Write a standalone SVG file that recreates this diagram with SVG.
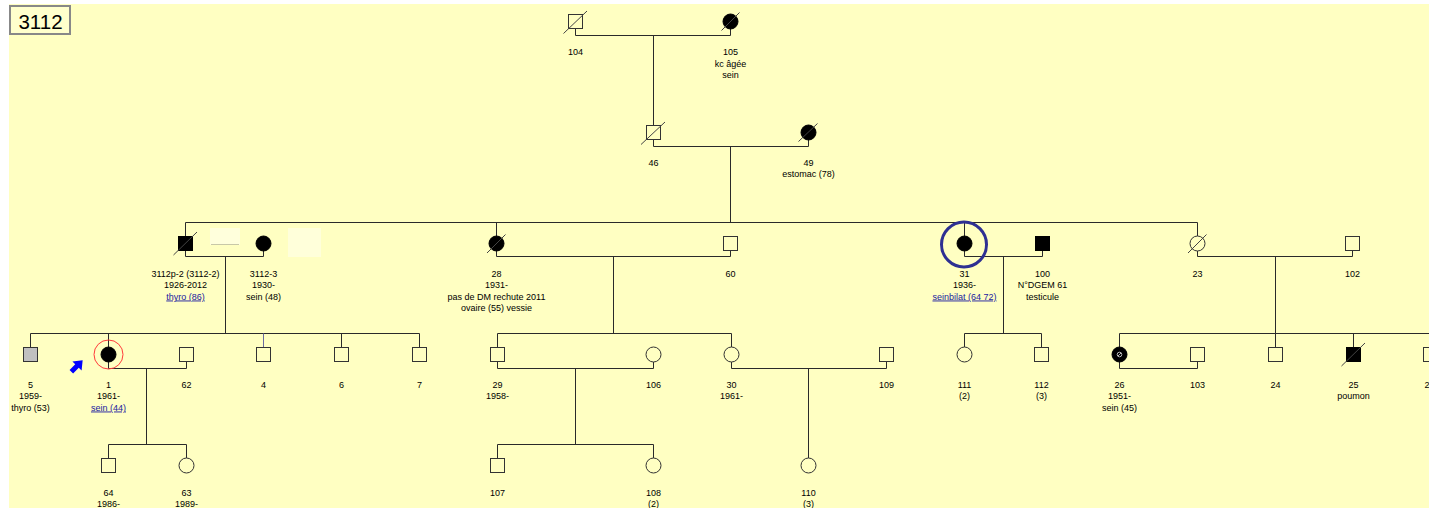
<svg xmlns="http://www.w3.org/2000/svg" width="1429" height="508" viewBox="0 0 1429 508">
<style>
.bg{fill:#FFFFC2}
.ln{stroke:#2a2a2a;stroke-width:1;fill:none}
.nd{stroke:#333;stroke-width:1;fill:#FFFFC2}
.af{stroke:#000;stroke-width:1;fill:#000}
.gr{stroke:#333;stroke-width:1;fill:#C0C0C0}
.sl{stroke:#444;stroke-width:1}
text{font-family:"Liberation Sans",Arial,sans-serif;font-size:9px;fill:#000;text-anchor:middle}
.lk{fill:#1A1AA0;text-decoration:underline}
</style>
<rect x="0" y="0" width="1429" height="508" fill="#FFFFFF"/>
<rect class="bg" x="9" y="4" width="1420" height="504"/>
<g id="title">
<rect x="10" y="6" width="60" height="28" fill="#FFFFCC" stroke="#888" stroke-width="2"/>
<text x="40.5" y="28.5" style="font-size:20.5px">3112</text>
</g>
<g id="faint">
<rect x="210" y="228" width="30" height="17" fill="#FFFFDC"/>
<line x1="211" y1="244.5" x2="239" y2="244.5" stroke="#C8C8A8"/>
<rect x="288" y="228" width="33" height="29" fill="#FFFFDA"/>
</g>
<g id="connectors" class="ln">
<path d="M575.5,28.5V35.5H730.5V29"/>
<path d="M653.5,35.5V125.5"/>
<path d="M653.5,139.5V146.5H808.5V140"/>
<path d="M730.5,146.5V222.5"/>
<path d="M185.5,236.5V222.5H1197.5V236"/>
<path d="M496.5,222.5V236"/>
<path d="M964.5,222.5V236"/>
<path d="M185.5,250.5V256.5H263.5V251"/>
<path d="M225.5,256.5V333.5"/>
<path d="M496.5,251V256.5H730.5V250.5"/>
<path d="M613.5,256.5V333.5"/>
<path d="M964.5,251V256.5H1042.5V250.5"/>
<path d="M1003.5,256.5V333.5"/>
<path d="M1197.5,251V256.5H1352.5V250.5"/>
<path d="M1275.5,256.5V347.5"/>
<path d="M30.5,347.5V333.5H419.5V347.5"/>
<path d="M108.5,333.5V347"/>
<path d="M263.5,333.5V347.5" stroke="#6A6AA0"/>
<path d="M341.5,333.5V347.5"/>
<path d="M497.5,347.5V333.5H731.5V347"/>
<path d="M964.5,347V333.5H1041.5V347.5"/>
<path d="M1119.5,347V333.5H1429"/>
<path d="M1353.5,333.5V347.5"/>
<path d="M108.5,362V368.5H186.5V361.5"/>
<path d="M146.5,368.5V444.5"/>
<path d="M497.5,361.5V368.5H653.5V362"/>
<path d="M575.5,368.5V444.5"/>
<path d="M731.5,362V368.5H886.5V361.5"/>
<path d="M808.5,368.5V458"/>
<path d="M1119.5,362V368.5H1197.5V361.5"/>
<path d="M108.5,458.5V444.5H186.5V458"/>
<path d="M497.5,458.5V444.5H653.5V458"/>
</g>
<g id="n104"><rect class="nd" x="568.5" y="14.5" width="14" height="14"/><line class="sl" x1="563.5" y1="33.5" x2="587" y2="11"/><text x="575.5" y="55">104</text></g>
<g id="n105"><circle class="af" cx="730.5" cy="21.5" r="7.5"/><line class="sl" x1="721.5" y1="30.5" x2="739.5" y2="12.5"/><text x="730.5" y="55">105</text><text x="730.5" y="66.5">kc âgée</text><text x="730.5" y="78">sein</text></g>
<g id="n46"><rect class="nd" x="646.5" y="125.5" width="14" height="14"/><line class="sl" x1="641" y1="144.5" x2="665" y2="122"/><text x="653.5" y="165.5">46</text></g>
<g id="n49"><circle class="af" cx="808.5" cy="132.5" r="7.5"/><line class="sl" x1="798.5" y1="141.5" x2="817.5" y2="123.5"/><text x="808.5" y="165.5">49</text><text x="808.5" y="177">estomac (78)</text></g>
<g id="n3112p-2"><rect class="af" x="178.5" y="236.5" width="14" height="14"/><line class="sl" x1="173.5" y1="255" x2="197" y2="232"/><text x="185.5" y="276.5">3112p-2 (3112-2)</text><text x="185.5" y="288">1926-2012</text><text class="lk" x="185.5" y="299.5">thyro (86)</text></g>
<g id="n3112-3"><circle class="af" cx="263.5" cy="243.5" r="7.5"/><text x="263.5" y="276.5">3112-3</text><text x="263.5" y="288">1930-</text><text x="263.5" y="299.5">sein (48)</text></g>
<g id="n28"><circle class="af" cx="496.5" cy="243.5" r="7.5"/><line class="sl" x1="487" y1="253" x2="505.5" y2="234.5"/><text x="496.5" y="276.5">28</text><text x="496.5" y="288">1931-</text><text x="496.5" y="299.5">pas de DM rechute 2011</text><text x="496.5" y="311">ovaire (55) vessie</text></g>
<g id="n60"><rect class="nd" x="723.5" y="236.5" width="14" height="14"/><text x="730.5" y="276.5">60</text></g>
<g id="n31"><circle fill="none" stroke="#2E3092" stroke-width="3" cx="964" cy="244.5" r="22.5"/><circle class="af" cx="964.5" cy="243.5" r="7.5"/><text x="964.5" y="276.5">31</text><text x="964.5" y="288">1936-</text><text class="lk" x="964.5" y="299.5">seinbilat (64 72)</text></g>
<g id="n100"><rect class="af" x="1035.5" y="236.5" width="14" height="14"/><text x="1042.5" y="276.5">100</text><text x="1042.5" y="288">N°DGEM 61</text><text x="1042.5" y="299.5">testicule</text></g>
<g id="n23"><circle class="nd" cx="1197.5" cy="243.5" r="7.5"/><line class="sl" x1="1188" y1="253" x2="1206.5" y2="234.5"/><text x="1197.5" y="276.5">23</text></g>
<g id="n102"><rect class="nd" x="1345.5" y="236.5" width="14" height="14"/><text x="1352.5" y="276.5">102</text></g>
<g id="n5"><rect class="gr" x="23.5" y="347.5" width="14" height="14"/><text x="30.5" y="387.5">5</text><text x="30.5" y="399">1959-</text><text x="30.5" y="410.5">thyro (53)</text></g>
<g id="n1"><circle fill="none" stroke="#FF3A3A" stroke-width="1" cx="108.5" cy="354.5" r="14.5"/><circle class="af" cx="108.5" cy="354.5" r="7.5"/><polygon points="-8,-2.5 0,-2.5 0,-6.5 8,0 0,6.5 0,2.5 -8,2.5" fill="#0000FF" transform="translate(77,366) rotate(-45)"/><text x="108.5" y="387.5">1</text><text x="108.5" y="399">1961-</text><text class="lk" x="108.5" y="410.5">sein (44)</text></g>
<g id="n62"><rect class="nd" x="179.5" y="347.5" width="14" height="14"/><text x="186.5" y="387.5">62</text></g>
<g id="n4"><rect class="nd" x="256.5" y="347.5" width="14" height="14" stroke="#1A1A8A"/><text x="263.5" y="387.5">4</text></g>
<g id="n6"><rect class="nd" x="334.5" y="347.5" width="14" height="14"/><text x="341.5" y="387.5">6</text></g>
<g id="n7"><rect class="nd" x="412.5" y="347.5" width="14" height="14"/><text x="419.5" y="387.5">7</text></g>
<g id="n29"><rect class="nd" x="490.5" y="347.5" width="14" height="14"/><text x="497.5" y="387.5">29</text><text x="497.5" y="399">1958-</text></g>
<g id="n106"><circle class="nd" cx="653.5" cy="354.5" r="7.5"/><text x="653.5" y="387.5">106</text></g>
<g id="n30"><circle class="nd" cx="731.5" cy="354.5" r="7.5"/><text x="731.5" y="387.5">30</text><text x="731.5" y="399">1961-</text></g>
<g id="n109"><rect class="nd" x="879.5" y="347.5" width="14" height="14"/><text x="886.5" y="387.5">109</text></g>
<g id="n111"><circle class="nd" cx="964.5" cy="354.5" r="7.5"/><text x="964.5" y="387.5">111</text><text x="964.5" y="399">(2)</text></g>
<g id="n112"><rect class="nd" x="1034.5" y="347.5" width="14" height="14"/><text x="1041.5" y="387.5">112</text><text x="1041.5" y="399">(3)</text></g>
<g id="n26"><circle class="af" cx="1119.5" cy="354.5" r="7.5"/><circle cx="1119.5" cy="354.5" r="2.3" fill="none" stroke="#BBBBBB" stroke-width="1"/><line x1="1118" y1="356" x2="1121" y2="353" stroke="#DDD" stroke-width="0.8"/><text x="1119.5" y="387.5">26</text><text x="1119.5" y="399">1951-</text><text x="1119.5" y="410.5">sein (45)</text></g>
<g id="n103"><rect class="nd" x="1190.5" y="347.5" width="14" height="14"/><text x="1197.5" y="387.5">103</text></g>
<g id="n24"><rect class="nd" x="1268.5" y="347.5" width="14" height="14"/><text x="1275.5" y="387.5">24</text></g>
<g id="n25"><rect class="af" x="1346.5" y="347.5" width="14" height="14"/><line class="sl" x1="1341.5" y1="366" x2="1365" y2="343"/><text x="1353.5" y="387.5">25</text><text x="1353.5" y="399">poumon</text></g>
<g id="n2x"><rect class="nd" x="1423.5" y="347.5" width="14" height="14"/><text x="1427" y="387.5">2</text></g>
<g id="n64"><rect class="nd" x="101.5" y="458.5" width="14" height="14"/><text x="108.5" y="496">64</text><text x="108.5" y="506.5">1986-</text></g>
<g id="n63"><circle class="nd" cx="186.5" cy="465.5" r="7.5"/><text x="186.5" y="496">63</text><text x="186.5" y="506.5">1989-</text></g>
<g id="n107"><rect class="nd" x="490.5" y="458.5" width="14" height="14"/><text x="497.5" y="496">107</text></g>
<g id="n108"><circle class="nd" cx="653.5" cy="465.5" r="7.5"/><text x="653.5" y="496">108</text><text x="653.5" y="506.5">(2)</text></g>
<g id="n110"><circle class="nd" cx="808.5" cy="465.5" r="7.5"/><text x="808.5" y="496">110</text><text x="808.5" y="506.5">(3)</text></g>
</svg>
